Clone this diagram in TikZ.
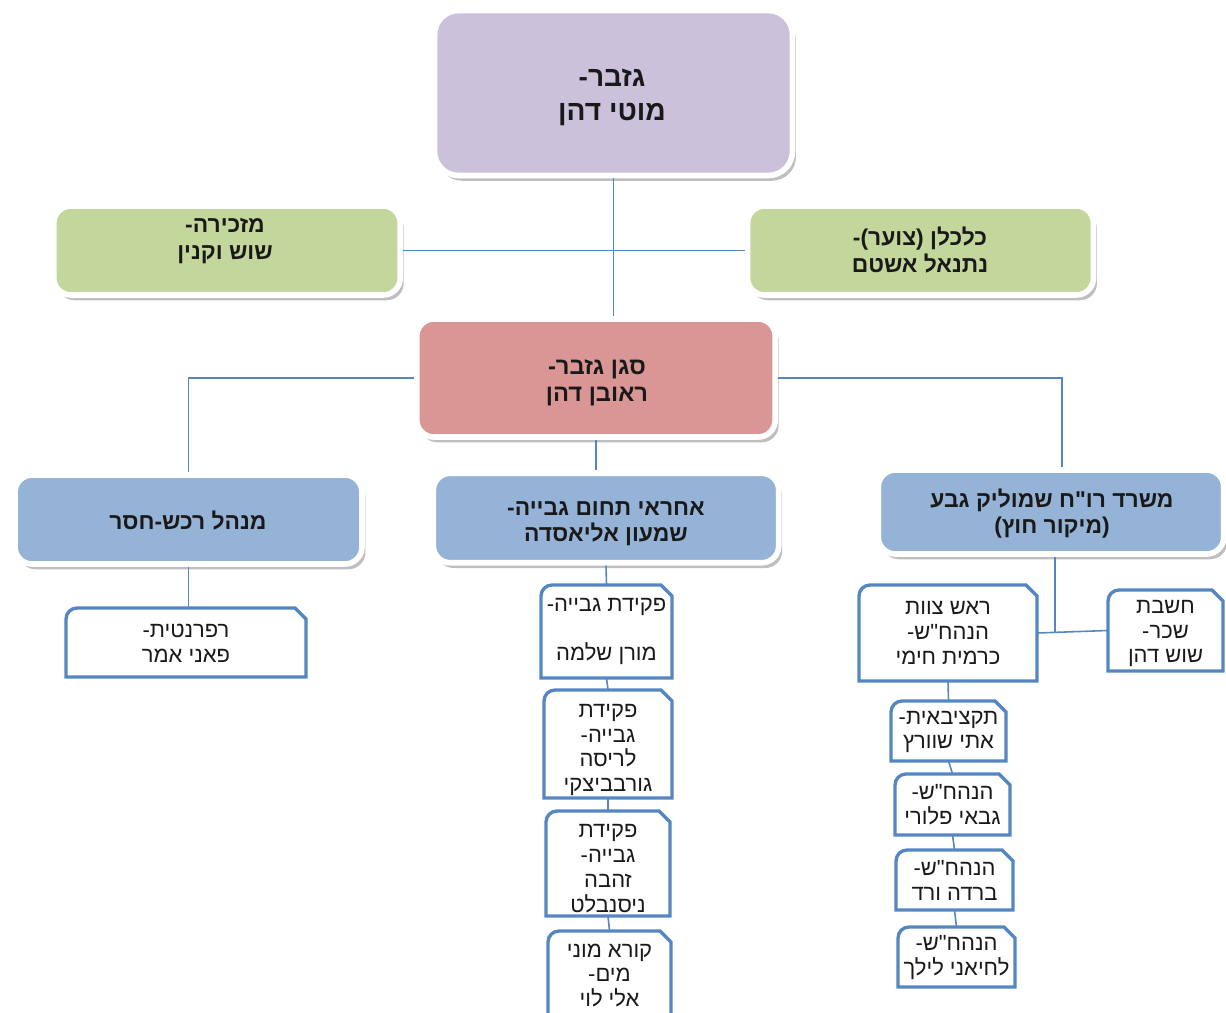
\documentclass[tikz,border=0pt]{standalone}
\usepackage{fontspec}
\usetikzlibrary{shadows}
\TeXXeTstate=1
\newfontfamily\hebfont[Script=Hebrew]{Liberation Sans}
\newcommand\hb[1]{\beginR #1\endR}
\definecolor{purp}{RGB}{204,193,218}
\definecolor{grn}{RGB}{195,214,155}
\definecolor{redf}{RGB}{217,150,148}
\definecolor{bluf}{RGB}{149,179,215}
\definecolor{lnc}{RGB}{84,134,194}
\definecolor{txt}{RGB}{25,25,25}
% name, x1, y1, x2, y2, text shift, text
\newcommand\snipbox[7]{%
  \fill[white] (#2,#5) -- (#2,{#3+11}) arc[start angle=180,end angle=90,radius=0.22cm] -- ({#4-11},#3) -- (#4,{#3+11}) -- (#4,#5) -- cycle;
  \draw[snipline] (#2,#5) -- (#2,{#3+11}) arc[start angle=180,end angle=90,radius=0.22cm] -- ({#4-11},#3) -- (#4,{#3+11}) -- (#4,#5) -- cycle;
  \node[inner sep=0pt, minimum width={(#4-#2)*0.02cm}, minimum height={(#5-#3)*0.02cm}] (#1) at ({(#2+#4)/2},{(#3+#5)/2}) {};%
  \node[smalltxt] (#1-t) at ({(#2+#4)/2},{(#3+#5)/2+#6}) {#7};%
}
\begin{document}
\begin{tikzpicture}[x=0.02cm,y=-0.02cm,
  bigbox/.style={draw=white, line width=3.2pt, rounded corners=0.34cm, inner sep=0pt,
    drop shadow={shadow xshift=2pt, shadow yshift=-3pt, opacity=0.25, fill=black}},
  bigtxt/.style={align=center, text=txt, inner sep=0pt, font=\hebfont\bfseries\fontsize{13}{14.8}\selectfont},
  conn/.style={draw=lnc, line width=0.9pt},
  snipline/.style={draw=lnc, line width=1.9pt},
  smalltxt/.style={inner sep=0pt, align=center, text=txt, font=\hebfont\fontsize{12.5}{14.2}\selectfont}]
\useasboundingbox (0,0) rectangle (1226,1013);
\fill[white] (0,0) rectangle (1226,1013);

% big boxes
\node[bigbox, rounded corners=0.48cm, fill=purp, minimum width=7.16cm, minimum height=3.3cm] (top) at (613.5,93) {};
\node[bigtxt, font=\hebfont\bfseries\fontsize{16}{19}\selectfont] (top-t) at (612,97.5) {\hb{גזבר-}\\\hb{מוטי דהן}};
\node[bigbox, fill=grn, minimum width=6.93cm, minimum height=1.78cm] (sec) at (227,250.5) {};
\node[bigtxt, font=\hebfont\bfseries\fontsize{13}{15.8}\selectfont] (sec-t) at (225,241) {\hb{מזכירה-}\\\hb{שוש וקנין}};
\node[bigbox, fill=grn, minimum width=6.92cm, minimum height=1.78cm] (econ) at (920.5,250.5) {};
\node[bigtxt, font=\hebfont\bfseries\fontsize{13}{15}\selectfont] (econ-t) at (920,250) {\hb{כלכלן (צוער)-}\\\hb{נתנאל אשטם}};
\node[bigbox, fill=redf, minimum width=7.17cm, minimum height=2.36cm] (red) at (596,378) {};
\node[bigtxt, font=\hebfont\bfseries\fontsize{13.5}{15.3}\selectfont] (red-t) at (597,383) {\hb{סגן גזבר-}\\\hb{ראובן דהן}};
\node[bigbox, fill=bluf, minimum width=6.94cm, minimum height=1.78cm] (lblue) at (188.5,519.5) {};
\node[bigtxt] (lblue-t) at (188,520.5) {\hb{מנהל רכש-חסר}};
\node[bigbox, fill=bluf, minimum width=6.91cm, minimum height=1.79cm] (mblue) at (606,518) {};
\node[bigtxt] (mblue-t) at (606,524) {\hb{אחראי תחום גבייה-}\\\hb{שמעון אליאסדה}};
\node[bigbox, fill=bluf, minimum width=6.91cm, minimum height=1.68cm] (rblue) at (1051,512) {};
\node[bigtxt] (rblue-t) at (1052,513.5) {\hb{משרד רו"ח שמוליק גבע}\\\hb{(מיקור חוץ)}};

% small boxes
\snipbox{ref}{66}{608}{306}{677}{0.5}{\hb{רפרנטית-}\\\hb{פאני אמר}}
\snipbox{b1}{541}{585}{672}{678}{0}{\hb{פקידת גבייה-}\\~\\\hb{מורן שלמה}}
\snipbox{b2}{544}{690}{672}{798}{6}{\hb{פקידת}\\\hb{גבייה-}\\\hb{לריסה}\\\hb{גורבביצקי}}
\snipbox{b3}{546}{811}{670}{916}{5}{\hb{פקידת}\\\hb{גבייה-}\\\hb{זהבה}\\\hb{ניסנבלט}}
\snipbox{b4}{548}{931}{671}{1020}{0}{\hb{קורא מוני}\\\hb{מים-}\\\hb{אלי לוי}}
\snipbox{team}{859}{585}{1037}{681}{0}{\hb{ראש צוות}\\\hb{הנהח"ש-}\\\hb{כרמית חימי}}
\snipbox{pay}{1108}{590}{1223}{671}{3}{\hb{חשבת}\\\hb{שכר-}\\\hb{שוש דהן}}
\snipbox{r1}{891}{701}{1006}{761}{1}{\hb{תקציבאית-}\\\hb{אתי שוורץ}}
\snipbox{r2}{895}{774}{1010}{835}{0}{\hb{הנהח"ש-}\\\hb{גבאי פלורי}}
\snipbox{r3}{896}{850}{1013}{910}{0}{\hb{הנהח"ש-}\\\hb{ברדה ורד}}
\snipbox{r4}{898}{927}{1015}{987}{0.5}{\hb{הנהח"ש-}\\\hb{לחיאני לילך}}

% connectors
\draw[conn] (top.south) -- (top.south |- red.north);
\draw[conn] (sec.east) -- (econ.west);
\draw[conn] (red.west) -| (lblue.north);
\draw[conn] (red.east) -| ([xshift=0.22cm]rblue.north);
\draw[conn] (red.south) -- (red.south |- mblue.north);
\draw[conn] (lblue.south) -- (lblue.south |- ref.north);
\draw[conn] (mblue.south) -- (b1.north);
\draw[conn] (b1.south) -- (b2.north);
\draw[conn] (b2.south) -- (b3.north);
\draw[conn] (b3.south) -- (b4.north);
\draw[conn] ([xshift=0.08cm]rblue.south) -- ([xshift=0.08cm]rblue.south |- team.east);
\draw[conn] (team.east) -- (pay.west);
\draw[conn] (team.south) -- (r1.north);
\draw[conn] (r1.south) -- (r2.north);
\draw[conn] (r2.south) -- (r3.north);
\draw[conn] (r3.south) -- (r4.north);
\end{tikzpicture}
\end{document}
